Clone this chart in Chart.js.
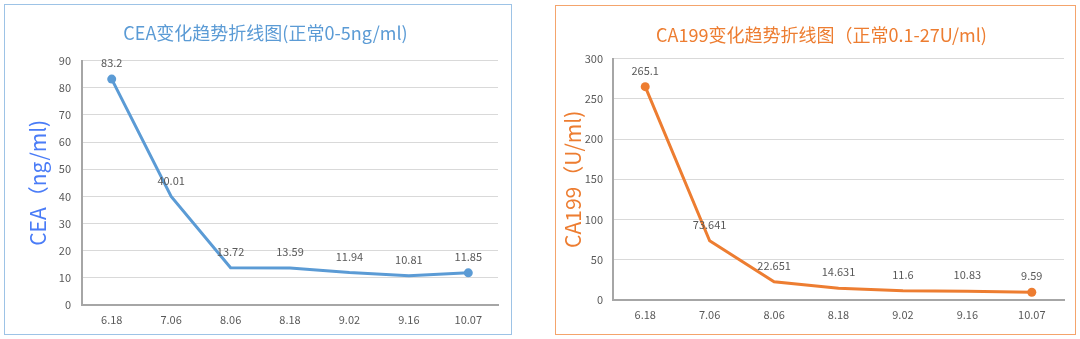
<!DOCTYPE html>
<html>
<head>
<meta charset="utf-8">
<script src="https://cdn.jsdelivr.net/npm/chart.js@4/dist/chart.umd.min.js"></script>
<style>
  html, body { margin: 0; padding: 0; background: #ffffff; }
  body { width: 1080px; height: 339px; position: relative; overflow: hidden; }
  .panel { position: absolute; box-sizing: border-box; background: #ffffff; }
  #panelCea { left: 4px; top: 4px; width: 508px; height: 331px; border: 1px solid #9dc3e6; }
  #panelCa { left: 555px; top: 5px; width: 521px; height: 330px; border: 1px solid #f4a46c; }
  .panel canvas { position: absolute; left: 0; top: 0; }
</style>
</head>
<body>
<div class="panel" id="panelCea"><canvas id="ceaChart" width="506" height="329"></canvas></div>
<div class="panel" id="panelCa"><canvas id="caChart" width="519" height="328"></canvas></div>
<script>
// Test dates
const dates = ['6.18', '7.06', '8.06', '8.18', '9.02', '9.16', '10.07'];
// CEA values (ng/ml)
const ceaValues = [83.2, 40.01, 13.72, 13.59, 11.94, 10.81, 11.85];
// CA199 values (U/ml)
const ca199Values = [265.1, 73.641, 22.651, 14.631, 11.6, 10.83, 9.59];
// Y axis ticks
const ceaTicks = [0, 10, 20, 30, 40, 50, 60, 70, 80, 90];
const ca199Ticks = [0, 50, 100, 150, 200, 250, 300];

const FONT = "'Microsoft YaHei', 'Noto Sans CJK SC', 'Noto Sans', sans-serif";
const LABEL_GREY = '#595959';

// Writes each point's value above it
const valueLabels = {
  id: 'valueLabels',
  afterDatasetsDraw(chart) {
    const ctx = chart.ctx;
    const ds = chart.data.datasets[0];
    const meta = chart.getDatasetMeta(0);
    ctx.save();
    ctx.font = '11px ' + FONT;
    ctx.fillStyle = LABEL_GREY;
    ctx.textAlign = 'center';
    ctx.textBaseline = 'middle';
    meta.data.forEach((pt, i) => {
      ctx.fillText(String(ds.data[i]), pt.x, pt.y - 16);
    });
    ctx.restore();
  }
};

function buildChart(canvasId, cfg) {
  const lastIdx = cfg.values.length - 1;
  return new Chart(document.getElementById(canvasId), {
    type: 'line',
    data: {
      labels: dates,
      datasets: [{
        data: cfg.values,
        borderColor: cfg.color,
        backgroundColor: cfg.color,
        borderWidth: 3,
        tension: 0,
        pointRadius: ctx => (ctx.dataIndex === 0 || ctx.dataIndex === lastIdx) ? 4.5 : 0,
        pointBackgroundColor: cfg.color,
        pointBorderWidth: 0
      }]
    },
    options: {
      responsive: false,
      animation: false,
      layout: { padding: { left: cfg.padLeft, right: cfg.padRight, top: 0, bottom: 0 } },
      plugins: {
        legend: { display: false },
        tooltip: { enabled: false },
        title: {
          display: true,
          text: cfg.title,
          color: cfg.color,
          font: { family: FONT, size: 18, weight: 'normal', lineHeight: 1.2 },
          padding: { top: cfg.titleTop, bottom: cfg.titleBottom }
        }
      },
      scales: {
        x: {
          offset: true,
          grid: { display: false, drawTicks: false },
          border: { display: true, color: '#a6a6a6', width: 2 },
          ticks: { color: LABEL_GREY, font: { family: FONT, size: 11 }, padding: 8, maxRotation: 0, autoSkip: false },
          afterFit: s => { s.height = cfg.xHeight; }
        },
        y: {
          min: cfg.ticks[0],
          max: cfg.ticks[cfg.ticks.length - 1],
          afterBuildTicks: s => { s.ticks = cfg.ticks.map(v => ({ value: v })); },
          grid: { color: '#d9d9d9', lineWidth: 1, drawTicks: false },
          border: { display: true, color: '#a6a6a6', width: 2 },
          ticks: { color: LABEL_GREY, font: { family: FONT, size: 11 }, padding: cfg.tickPad },
          title: {
            display: true,
            text: cfg.axisTitle,
            color: cfg.axisColor,
            font: { family: FONT, size: 21, lineHeight: 1 },
            padding: { top: cfg.axisTitlePad, bottom: 0 }
          },
          afterFit: s => { s.width = cfg.yWidth; }
        }
      }
    },
    plugins: [valueLabels]
  });
}

buildChart('ceaChart', {
  values: ceaValues,
  ticks: ceaTicks,
  color: '#5b9bd5',
  axisColor: '#4a7cf7',
  title: 'CEA变化趋势折线图(正常0-5ng/ml)',
  axisTitle: 'CEA（ng/ml)',
  padLeft: 28, padRight: 13,
  titleTop: 17, titleBottom: 17,
  xHeight: 29, yWidth: 49, tickPad: 11, axisTitlePad: -5
});

buildChart('caChart', {
  values: ca199Values,
  ticks: ca199Ticks,
  color: '#ed7d31',
  axisColor: '#ed7d31',
  title: 'CA199变化趋势折线图（正常0.1-27U/ml)',
  axisTitle: 'CA199（U/ml)',
  padLeft: 23, padRight: 11,
  titleTop: 18, titleBottom: 13,
  xHeight: 34, yWidth: 34, tickPad: 10, axisTitlePad: -16
});
</script>
</body>
</html>
